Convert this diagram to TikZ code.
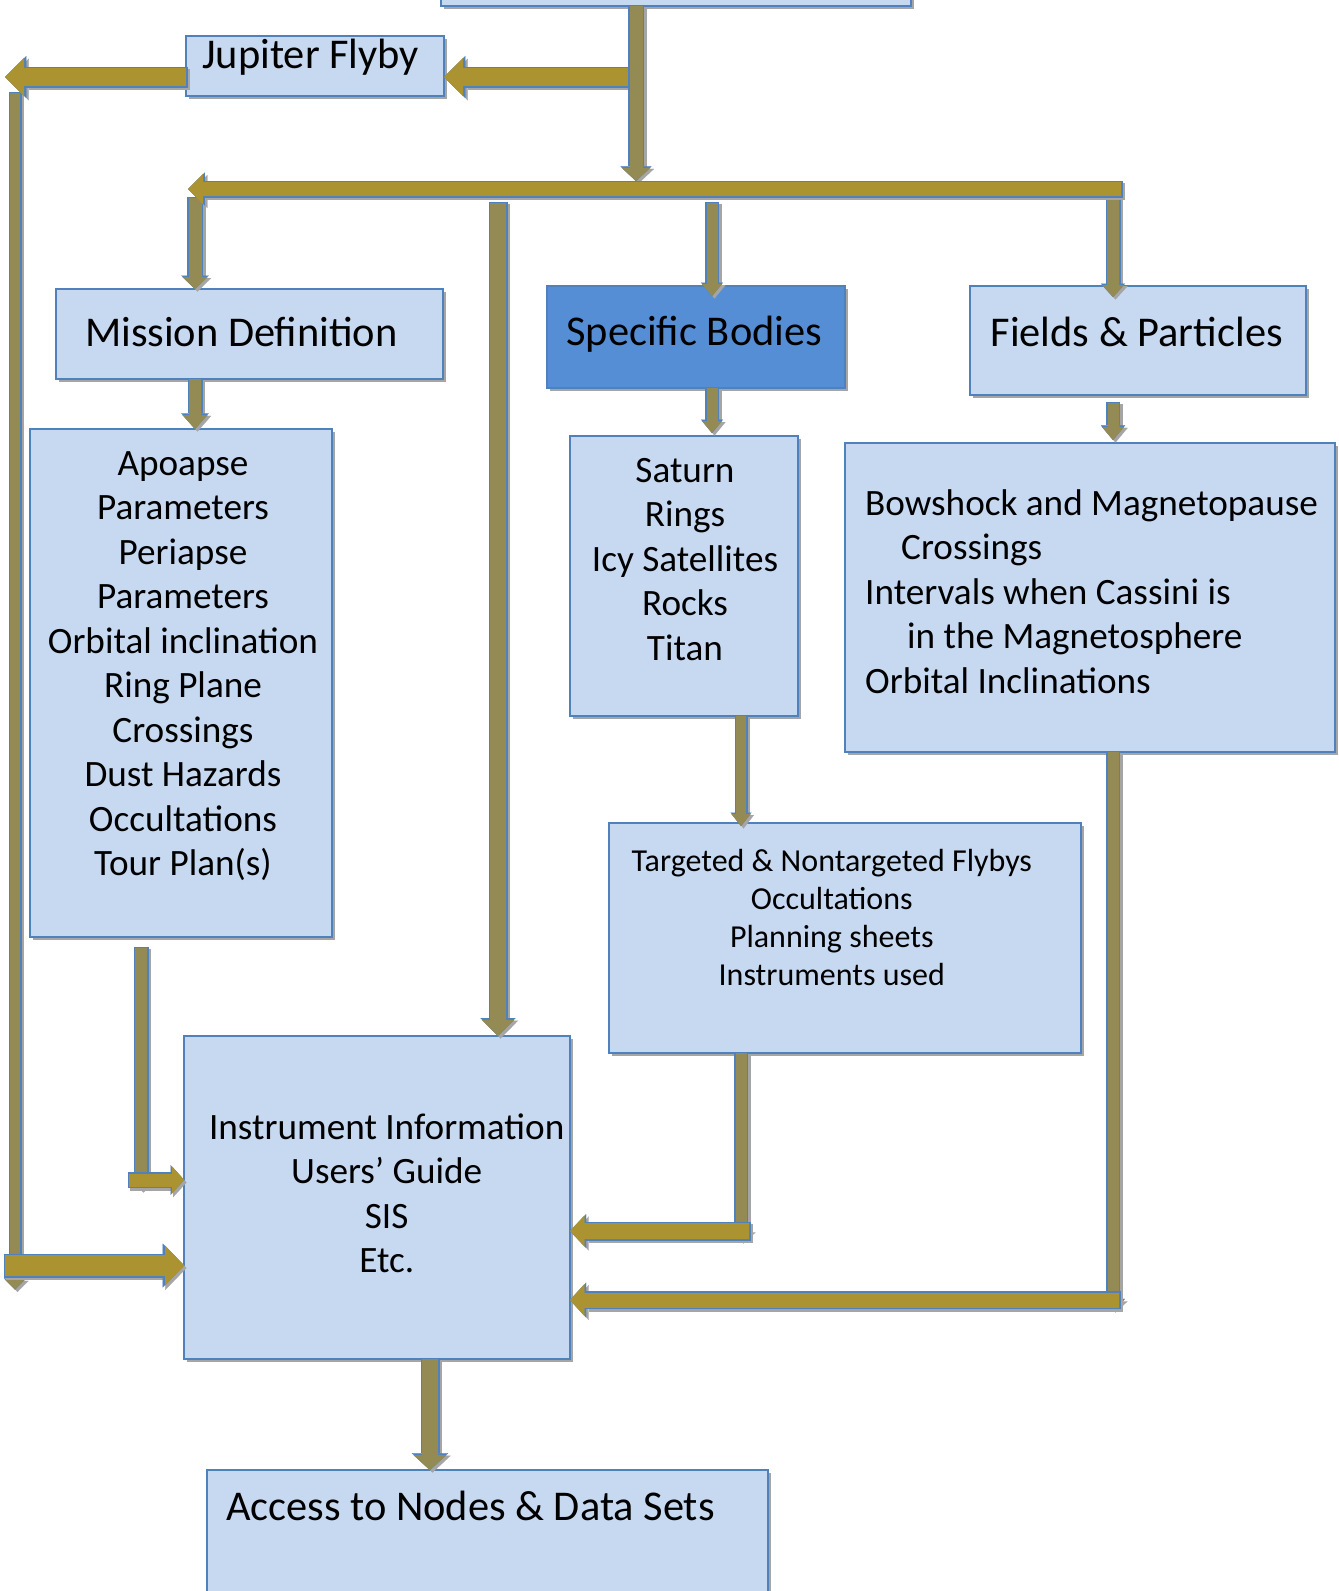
\documentclass[tikz,border=0pt]{standalone}
\usepackage{fontspec}
\setmainfont{Carlito}
\usetikzlibrary{arrows.meta, positioning, shadows}

\definecolor{boxfill}{HTML}{C6D9F1}
\definecolor{boxline}{HTML}{4F81BD}
\definecolor{bodyfill}{HTML}{558ED5}
\definecolor{gold}{HTML}{AA9330}
\definecolor{olive}{HTML}{948A54}
\definecolor{shade}{HTML}{A5A5A5}

\newcommand{\bigtxt}{\fontsize{42.4}{50}\selectfont}
\newcommand{\medtxt}{\fontsize{37.2}{44.5}\selectfont}
\newcommand{\smalltxt}{\fontsize{32}{38.2}\selectfont}

\begin{document}
\begin{tikzpicture}[x=1pt, y=-1pt,
        box/.style={rectangle, draw=boxline, fill=boxfill, line width=1.8pt, anchor=north west,
            inner sep=0pt, outer sep=0pt,
            drop shadow={shadow xshift=3pt, shadow yshift=-3pt, fill=shade, opacity=1}},
        txt/.style={inner sep=0pt, align=center, font=\medtxt},
        blk/.style n args={4}{line width=#2, draw=#1,
            -{Triangle[length=#4, width=#3, line width=0.1pt, fill=#1]},
            preaction={draw=shade, line width=#2+3pt, shorten <=-1.5pt,
                transform canvas={shift={(2.5pt,-2.5pt)}},
                -{Triangle[length=#4, width=#3, scale length=1.12, scale width=1.1, line width=0.1pt, fill=shade]}},
            preaction={draw=boxline, line width=#2+3pt, shorten <=-1.5pt,
                -{Triangle[length=#4, width=#3, scale length=1.12, scale width=1.1, line width=0.1pt, fill=boxline]}}},
        gar/.style n args={3}{blk={gold}{#1}{#2}{#3}},
        olv/.style n args={3}{blk={olive}{#1}{#2}{#3}}]
    \useasboundingbox (0,0) rectangle (1339,1591);

    \node[box, minimum width=470pt, minimum height=46pt] (top) at (441,-40) {};
    \node[box, minimum width=258pt, minimum height=60pt] (jup) at (186,36) {};
    \node[box, minimum width=387pt, minimum height=90pt] (mission) at (56,289) {};
    \node[box, fill=bodyfill, minimum width=298pt, minimum height=102pt] (bodies) at (547,286) {};
    \node[box, minimum width=336pt, minimum height=109pt] (fp) at (970,286) {};
    \node[box, minimum width=302pt, minimum height=508pt] (mlist) at (30,429) {};
    \node[box, minimum width=228pt, minimum height=280pt] (blist) at (570,436) {};
    \node[box, minimum width=490pt, minimum height=309pt] (flist) at (845,443) {};
    \node[box, minimum width=472pt, minimum height=230pt] (tlist) at (609,823) {};
    \node[box, minimum width=386pt, minimum height=323pt] (inst) at (184,1036) {};
    \node[box, minimum width=561pt, minimum height=160pt] (access) at (207,1470) {};

    \coordinate (hub) at (636,77);
    \coordinate (hubB) at (636,181);
    \coordinate (kJup) at (5,77);
    \coordinate (colTop) at (15,93);
    \coordinate (kFeed) at (15,1265.5);
    \coordinate (barR) at (1121,189);
    \coordinate (barL) at (188,189);
    \coordinate (dMis) at (195,198);
    \coordinate (dIns) at (498,203);
    \coordinate (dBod) at (712,203);
    \coordinate (dFP) at (1113,198);
    \coordinate (dAcc) at (430,0);
    \coordinate (kMis) at (141,1180);
    \coordinate (kTar) at (741,1231);
    \coordinate (kFP) at (1113,1300);

    \draw[olv={10pt}{20pt}{10pt}] (colTop) -- ([yshift=-24pt]kFeed);
    \draw[olv={12pt}{22pt}{10pt}] ([yshift=-11pt]mlist.south -| kMis) -- ([yshift=-10pt]kMis);
    \draw[olv={11pt}{22pt}{10pt}] (tlist.south -| kTar) -- ([yshift=-10pt]kTar);
    \draw[olv={11pt}{22pt}{10pt}] (flist.south -| kFP) -- ([yshift=-10pt]kFP);
    \draw[olv={16pt}{32pt}{16pt}] (dIns) -- (dIns |- inst.north);
    \draw[olv={13pt}{25pt}{12pt}] (dMis) -- (dMis |- mission.north);
    \draw[olv={11pt}{20pt}{12pt}, shorten >=-10pt] (dBod) -- (dBod |- bodies.north);
    \draw[olv={12pt}{22pt}{12pt}, shorten >=-11pt] (dFP) -- (dFP |- fp.north);
    \draw[olv={12pt}{25pt}{14pt}] (mission.south -| dMis) -- (mlist.north -| dMis);
    \draw[olv={11pt}{20pt}{12pt}, shorten >=3pt] (bodies.south -| dBod) -- (blist.north -| dBod);
    \draw[olv={11pt}{22pt}{13pt}, shorten >=3pt] ([yshift=-8pt]fp.south -| dFP) -- (flist.north -| dFP);
    \draw[olv={10pt}{19pt}{12pt}, shorten >=-3pt] (blist.south -| kTar) -- (tlist.north -| kTar);
    \draw[olv={16pt}{33pt}{15pt}] (inst.south -| dAcc) -- (access.north -| dAcc);

    \draw[gar={18pt}{38pt}{19pt}] (hub) -- (hub -| jup.east);
    \draw[olv={13pt}{28pt}{13pt}] (top.south -| hub) -- (hubB);
    \draw[gar={18pt}{38pt}{19pt}] (jup.west |- hub) -- (kJup);
    \draw[gar={14pt}{30pt}{15pt}] (barR) -- (barL);
    \draw[gar={21pt}{40pt}{19pt}] (kFeed -| kJup) -- (kFeed -| inst.west);
    \draw[gar={13pt}{27pt}{12pt}] ([xshift=-12pt]kMis) -- (kMis -| inst.west);
    \draw[gar={16pt}{31pt}{14.5pt}] ([xshift=8pt]kTar) -- (kTar -| inst.east);
    \draw[gar={15pt}{32pt}{14.5pt}] ([xshift=6pt]kFP) -- (kFP -| inst.east);

    \node[txt, font=\bigtxt, anchor=base] (jupT) at (310.7,68.3) {Jupiter Flyby};
    \node[txt, font=\bigtxt, anchor=base] (missionT) at (241.4,346) {Mission Definition};
    \node[txt, font=\bigtxt, anchor=base] (bodiesT) at (694.3,345.5) {Specific Bodies};
    \node[txt, font=\bigtxt, anchor=base] (fpT) at (1136.7,346) {Fields \& Particles};
    \node[txt, font=\bigtxt, anchor=base west] (accessT) at (226,1520) {Access to Nodes \& Data Sets};
    \node[txt, anchor=north] (mlistT) at (183,451) {Apoapse\\Parameters\\Periapse\\Parameters\\Orbital inclination\\Ring Plane\\Crossings\\Dust Hazards\\Occultations\\Tour Plan(s)};
    \node[txt, anchor=north] (blistT) at (685,458) {Saturn\\Rings\\Icy Satellites\\Rocks\\Titan};
    \node[txt, align=left, anchor=north west] (flistT) at (865,489.4) {Bowshock and Magnetopause\\\hspace*{36pt}Crossings\\Intervals when Cassini is\\\hspace*{42pt}in the Magnetosphere\\Orbital Inclinations};
    \node[txt, font=\smalltxt, anchor=north] (tlistT) at (831.8,848.7) {Targeted \& Nontargeted Flybys\\Occultations\\Planning sheets\\Instruments used};
    \node[txt, anchor=north] (instT) at (386.7,1113.3) {Instrument Information\\Users’ Guide\\SIS\\Etc.};
\end{tikzpicture}
\end{document}
